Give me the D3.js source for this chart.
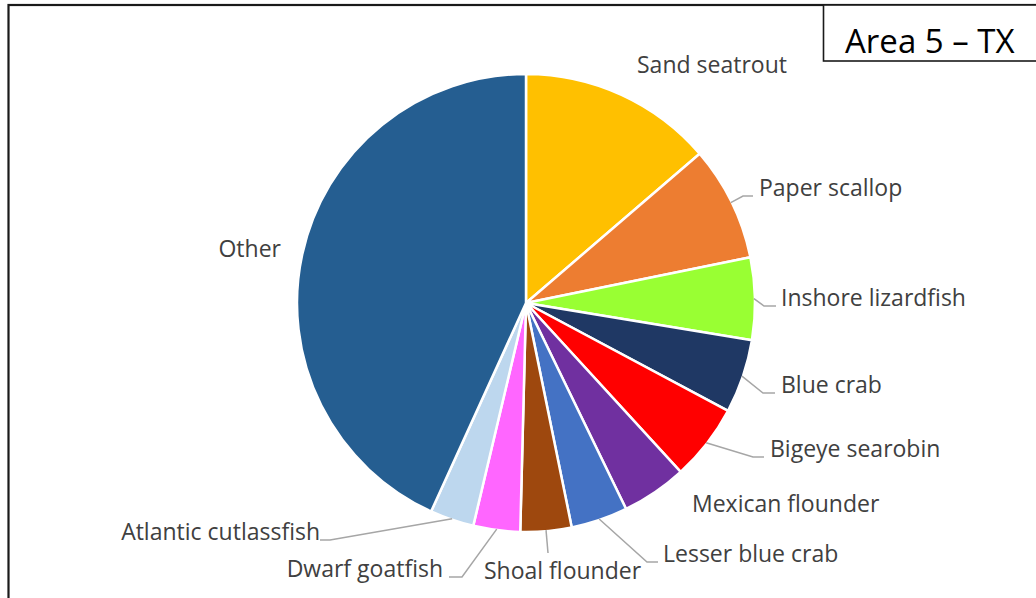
<!DOCTYPE html>
<html>
<head>
<meta charset="utf-8">
<script src="https://cdn.jsdelivr.net/npm/d3@7"></script>
<style>
  html, body { margin: 0; padding: 0; background: #fff; }
  svg { display: block; }
</style>
</head>
<body>
<svg id="chart" width="1036" height="598"></svg>
<script>
// ---- data ----
const categories = ["Sand seatrout", "Paper scallop", "Inshore lizardfish", "Blue crab",
  "Bigeye searobin", "Mexican flounder", "Lesser blue crab", "Shoal flounder",
  "Dwarf goatfish", "Atlantic cutlassfish", "Other"];
const values = [13.7, 8.1, 5.8, 5.2, 5.4, 4.6, 4.0, 3.6, 3.3, 3.1, 43.2];
const colors = ["#FFC000", "#ED7D31", "#99FF33", "#1F3864", "#FF0000", "#7030A0",
  "#4472C4", "#9E480E", "#FF66FF", "#BDD7EE", "#255E91"];
const title = "Area 5 \u2013 TX";

// ---- layout (label placement, relative to the pie centre) ----
// [text x, text baseline, anchor, elbow dx, elbow dy, end dx, end dy] ; null elbow => no leader
const labelLayout = [
  [111, -230, "start", null, null, null, null],
  [233, -107, "start", 217, -107, 227, -107],
  [255, 3, "start", 238, 3, 250, 3],
  [255, 90, "start", 237, 90, 249, 90],
  [244, 154, "start", 227, 154, 238, 154],
  [166, 209, "start", null, null, null, null],
  [137, 259, "start", 121, 259, 132, 259],
  [-42, 276, "start", 22, 250, 22, 250],
  [-83, 274, "end", -64, 274, -77, 274],
  [-206, 237, "end", -196, 237, -206, 237],
  [-245, -46, "end", null, null, null, null]
];

const svg = d3.select("#chart");
const W = 1036, H = 598;
const cx = 526, cy = 303, R = 229;

// outer frame (extends past right/bottom edges)
svg.append("rect")
  .attr("x", 8.5).attr("y", 5).attr("width", W + 20).attr("height", H + 20)
  .attr("fill", "none").attr("stroke", "#1a1a1a").attr("stroke-width", 2.2);

const g = svg.append("g").attr("transform", `translate(${cx},${cy})`);

const pie = d3.pie().sort(null).value(d => d);
const arcs = pie(values);
const arc = d3.arc().innerRadius(0).outerRadius(R);

g.selectAll("path.slice")
  .data(arcs)
  .join("path")
  .attr("class", "slice")
  .attr("d", arc)
  .attr("fill", (d, i) => colors[i])
  .attr("stroke", "#fff")
  .attr("stroke-width", 2.5)
  .attr("stroke-linejoin", "round");

// leader lines
arcs.forEach((a, i) => {
  const L = labelLayout[i];
  if (L[3] === null) return;
  const mid = (a.startAngle + a.endAngle) / 2;
  const sx = Math.sin(mid) * (R - 1), sy = -Math.cos(mid) * (R - 1);
  const pts = [[sx, sy], [L[3], L[4]], [L[5], L[6]]];
  g.append("path")
    .attr("d", d3.line()(pts))
    .attr("fill", "none")
    .attr("stroke", "#A6A6A6")
    .attr("stroke-width", 1.5);
});

// labels
g.selectAll("text.lbl")
  .data(categories)
  .join("text")
  .attr("class", "lbl")
  .attr("x", (d, i) => labelLayout[i][0])
  .attr("y", (d, i) => labelLayout[i][1])
  .attr("text-anchor", (d, i) => labelLayout[i][2])
  .attr("font-family", "'Open Sans', 'Noto Sans', sans-serif")
  .attr("font-size", 23)
  .attr("fill", "#404040")
  .text(d => d);

// title box
svg.append("rect")
  .attr("x", 823.5).attr("y", 5).attr("width", 300).attr("height", 56)
  .attr("fill", "#fff").attr("stroke", "#1a1a1a").attr("stroke-width", 1.6);
svg.append("text")
  .attr("x", 845).attr("y", 53)
  .attr("font-family", "'Open Sans', 'Noto Sans', sans-serif")
  .attr("font-size", 33)
  .attr("fill", "#000")
  .text(title);
</script>
</body>
</html>
